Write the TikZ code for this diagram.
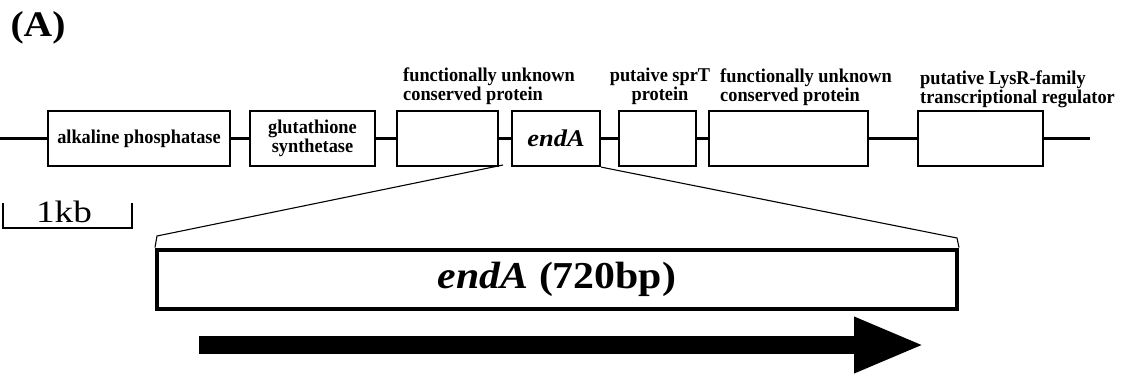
\documentclass[tikz,border=0pt]{standalone}
\usepackage{fontspec}
\setmainfont{Liberation Serif}
\newfontfamily\condfont{Liberation Serif}[FakeStretch=0.94]
\newfontfamily\widefont{Liberation Serif}[FakeStretch=1.1]
\newfontfamily\kbfont{Liberation Serif}[FakeStretch=1.2]
\usetikzlibrary{arrows.meta, positioning}

\begin{document}
\begin{tikzpicture}[x=1pt,y=-1pt,
        gene/.style={draw, fill=white, line width=2.2pt, minimum height=55pt, inner sep=0pt, align=center, font=\condfont\fontsize{19.5}{19}\selectfont\bfseries},
        lbl/.style={inner sep=0pt, font=\condfont\fontsize{19.5}{19}\selectfont\bfseries},
        link/.style={line width=2.5pt},
        zoomline/.style={line width=1.1pt}]
        \useasboundingbox (0,0) rectangle (1121,376);
        \node[font=\widefont\fontsize{36}{36}\selectfont\bfseries] (A) at (38,28) {(A)};
        \coordinate (s) at (0,138.5);
        \coordinate (e) at (1090,138.5);
        \node[gene, minimum width=182pt] (g1) at (139,138.5) {alkaline phosphatase};
        \node[gene, minimum width=125pt] (g2) at (312.5,138.5) {glutathione\\synthetase};
        \node[gene, minimum width=101pt] (g3) at (447.5,138.5) {};
        \node[gene, minimum width=88pt, font=\widefont\fontsize{24}{24}\selectfont\bfseries\itshape] (g4) at (556,138.5) {endA};
        \node[gene, minimum width=77pt] (g5) at (657.5,138.5) {};
        \node[gene, minimum width=159pt] (g6) at (788.5,138.5) {};
        \node[gene, minimum width=125pt] (g7) at (980.5,138.5) {};
        \draw[link] (s) -- (g1) (g1) -- (g2) (g2) -- (g3) (g3) -- (g4)
                (g4) -- (g5) (g5) -- (g6) (g6) -- (g7) (g7) -- (e);
        \node[lbl, anchor=west, align=left] (l3) at (403,86.5) {functionally unknown\\conserved protein};
        \node[lbl, align=center] (l5) at (660,86.5) {putaive sprT\\protein};
        \node[lbl, anchor=west, align=left] (l6) at (720,87.5) {functionally unknown\\conserved protein};
        \node[lbl, anchor=west, align=left] (l7) at (920,89.5) {putative LysR-family\\transcriptional regulator};
        \draw[line width=1.5pt] (3,203) -- (3,228) -- (132,228) -- (132,203);
        \node[font=\kbfont\fontsize{31}{31}\selectfont] (kb) at (64,212) {1kb};
        \node[draw, line width=4pt, minimum width=800pt, minimum height=59pt, inner sep=0pt, font=\widefont\fontsize{38}{38}\selectfont\bfseries] (gene) at (557,279) {\textit{endA} (720bp)};
        \coordinate (zl) at (503,165);
        \coordinate (kl) at (157,236);
        \coordinate (kr) at (957,238);
        \draw[zoomline] (zl) -- (kl) -- (gene.north west);
        \draw[zoomline] (g4.south east) -- (kr) -- (gene.north east);
        \coordinate (a0) at (199,345);
        \coordinate (a1) at (925,345);
        \draw[line width=18pt, -{Triangle[length=71pt, width=51pt]}] (a0) -- (a1);
\end{tikzpicture}
\end{document}
